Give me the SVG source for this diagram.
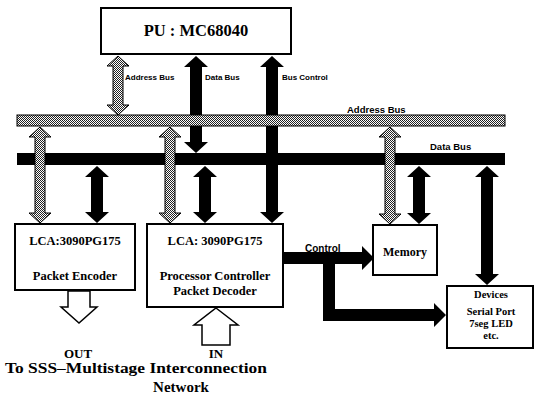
<svg xmlns="http://www.w3.org/2000/svg" width="534" height="397" viewBox="0 0 534 397">
<defs>
<pattern id="dots" width="2" height="2" patternUnits="userSpaceOnUse">
<rect width="2" height="2" fill="#fff"/>
<rect width="1" height="1" fill="#222"/>
<rect x="1" y="1" width="1" height="1" fill="#222"/>
</pattern>
<style>
.box{fill:#fff;stroke:#000;stroke-width:2}
.t{font-family:"Liberation Serif","Times New Roman",serif;font-weight:bold;fill:#000;text-anchor:middle}
.s{font-family:"Liberation Sans",Arial,sans-serif;font-weight:bold;font-size:8px;fill:#000}
.blk{fill:#000}
.pat{fill:url(#dots);stroke:#000;stroke-width:1}
.hol{fill:#fff;stroke:#000;stroke-width:1.5}
</style>
</defs>
<rect width="534" height="397" fill="#fff"/>

<g id="connectors">
<rect id="data-bus" x="17" y="153" width="488" height="12" class="blk"/>
<polygon class="blk" points="196,56 208,67 202,67 202,142 208,142 196,153 184,142 190,142 190,67 184,67"/>
<polygon class="blk" points="272,56 284,67 278,67 278,212 284,212 272,223 260,212 266,212 266,67 260,67"/>
<polygon class="blk" points="97,166 109,177 103,177 103,212 109,212 97,223 85,212 91,212 91,177 85,177"/>
<polygon class="blk" points="205,166 217,177 211,177 211,212 217,212 205,223 193,212 199,212 199,177 193,177"/>
<polygon class="blk" points="419,166 431,177 425,177 425,213 431,213 419,224 407,213 413,213 413,177 407,177"/>
<polygon class="blk" points="487,166 499,177 493,177 493,274 499,274 487,285 475,274 481,274 481,177 475,177"/>
<rect id="address-bus" x="17" y="115" width="488" height="11" class="pat"/>
<polygon class="pat" points="118,56 129,66 123,66 123,105 129,105 118,115 107,105 113,105 113,66 107,66"/>
<polygon class="pat" points="40,127 51,137 45,137 45,213 51,213 40,223 29,213 35,213 35,137 29,137"/>
<polygon class="pat" points="170,127 181,137 175,137 175,213 181,213 170,223 159,213 165,213 165,137 159,137"/>
<polygon class="pat" points="390,127 401,137 395,137 395,214 401,214 390,224 379,214 385,214 385,137 379,137"/>
<polygon class="blk" points="283,252 362,252 362,246 374,258 362,270 362,264 335,264 335,309 434,309 434,303 446,315 434,327 434,321 323,321 323,264 283,264"/>
<polygon class="hol" points="68,291 90,291 90,307 97,307 79,323 61,307 68,307"/>
<polygon class="hol" points="216,308 238,325 230,325 230,345 202,345 202,325 194,325"/>
<text class="s" x="125" y="80">Address Bus</text>
<text class="s" x="205" y="80">Data Bus</text>
<text class="s" x="282" y="80">Bus Control</text>
<text class="s" x="347" y="113" style="font-size:9.5px">Address Bus</text>
<text class="s" x="430" y="150" style="font-size:9.5px">Data Bus</text>
<text class="s" x="305" y="252" style="font-size:10px">Control</text>
</g>

<g id="pu">
<rect class="box" x="101" y="8" width="190" height="46"/>
<text class="t" x="196" y="36" style="font-size:16.5px">PU : MC68040</text>
</g>

<g id="lca1">
<rect class="box" x="15" y="224" width="120" height="66"/>
<text class="t" x="75" y="245" style="font-size:12.5px">LCA:3090PG175</text>
<text class="t" x="75" y="280" style="font-size:12.5px">Packet Encoder</text>
</g>

<g id="lca2">
<rect class="box" x="147" y="224" width="136" height="83"/>
<text class="t" x="215" y="245" style="font-size:12.5px">LCA: 3090PG175</text>
<text class="t" x="215" y="280" style="font-size:12.5px">Processor Controller</text>
<text class="t" x="215" y="295" style="font-size:12.5px">Packet Decoder</text>
</g>

<g id="memory">
<rect class="box" x="373" y="225" width="64" height="50"/>
<text class="t" x="405" y="256" style="font-size:12px">Memory</text>
</g>

<g id="devices">
<rect class="box" x="447" y="286" width="86" height="62"/>
<text class="t" x="491" y="298" style="font-size:10.5px">Devices</text>
<text class="t" x="491" y="315" style="font-size:10.5px">Serial Port</text>
<text class="t" x="491" y="327" style="font-size:10.5px">7seg LED</text>
<text class="t" x="491" y="339" style="font-size:10.5px">etc.</text>
</g>

<g id="labels">
<text class="t" x="78" y="358" style="font-size:13px">OUT</text>
<text class="t" x="216" y="358" style="font-size:13px">IN</text>
<text class="t" x="136" y="373" style="font-size:15px" textLength="262" lengthAdjust="spacingAndGlyphs">To SSS–Multistage Interconnection</text>
<text class="t" x="181" y="392" style="font-size:15px">Network</text>
</g>
</svg>
